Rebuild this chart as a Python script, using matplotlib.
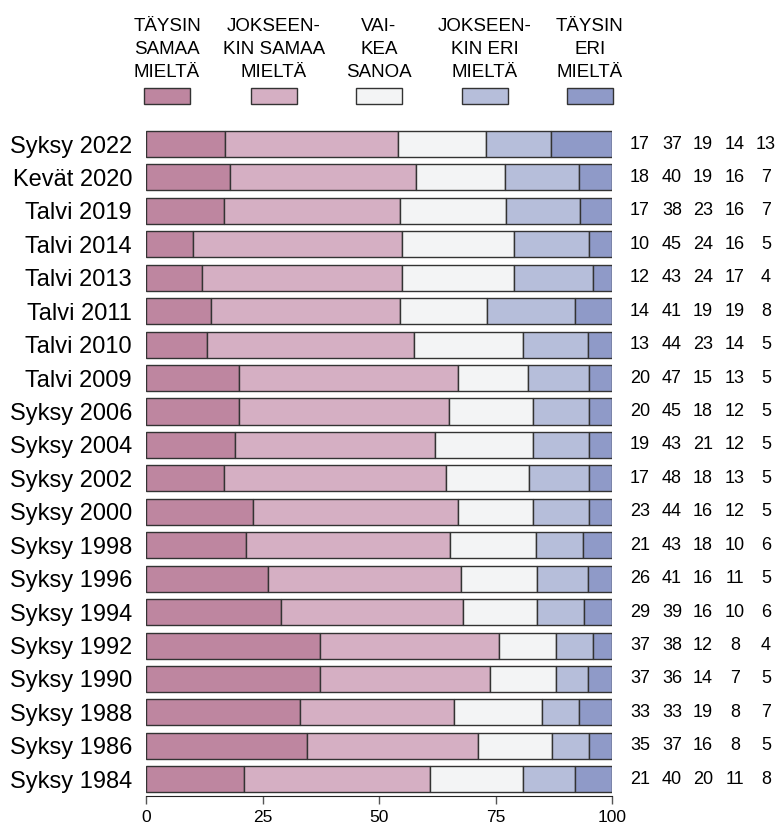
import matplotlib
matplotlib.use("Agg")
import matplotlib.pyplot as plt
import numpy as np

plt.rcParams['font.family'] = ['Liberation Sans', 'DejaVu Sans']

categories = ["Syksy 2022", "Kevät 2020", "Talvi 2019", "Talvi 2014", "Talvi 2013",
              "Talvi 2011", "Talvi 2010", "Talvi 2009", "Syksy 2006", "Syksy 2004",
              "Syksy 2002", "Syksy 2000", "Syksy 1998", "Syksy 1996", "Syksy 1994",
              "Syksy 1992", "Syksy 1990", "Syksy 1988", "Syksy 1986", "Syksy 1984"]
taysin_samaa = [17, 18, 17, 10, 12, 14, 13, 20, 20, 19, 17, 23, 21, 26, 29, 37, 37, 33, 35, 21]
jokseenkin_samaa = [37, 40, 38, 45, 43, 41, 44, 47, 45, 43, 48, 44, 43, 41, 39, 38, 36, 33, 37, 40]
vaikea_sanoa = [19, 19, 23, 24, 24, 19, 23, 15, 18, 21, 18, 16, 18, 16, 16, 12, 14, 19, 16, 20]
jokseenkin_eri = [14, 16, 16, 16, 17, 19, 14, 13, 12, 12, 13, 12, 10, 11, 10, 8, 7, 8, 8, 11]
taysin_eri = [13, 7, 7, 5, 4, 8, 5, 5, 5, 5, 5, 5, 6, 5, 6, 4, 5, 7, 5, 8]
legend_labels = ["TÄYSIN\nSAMAA\nMIELTÄ", "JOKSEEN-\nKIN SAMAA\nMIELTÄ", "VAI-\nKEA\nSANOA",
                 "JOKSEEN-\nKIN ERI\nMIELTÄ", "TÄYSIN\nERI\nMIELTÄ"]
colors = ["#BE86A0", "#D5AFC3", "#F3F4F5", "#B6BEDA", "#8F9AC8"]
xticks = [0, 25, 50, 75, 100]

series = np.array([taysin_samaa, jokseenkin_samaa, vaikea_sanoa, jokseenkin_eri, taysin_eri], dtype=float)
totals = series.sum(axis=0)
norm = series / totals * 100

fig = plt.figure(figsize=(7.77, 8.27), dpi=100)
ax = fig.add_axes([146/777, 1-796/827, (612-146)/777, (796-127.3)/827])

y = np.arange(len(categories))
left = np.zeros(len(categories))
for i in range(5):
    ax.barh(y, norm[i], left=left, height=0.78, color=colors[i], edgecolor="#333333", linewidth=1.0)
    left += norm[i]

ax.set_ylim(len(categories) - 0.5, -0.5)
ax.set_xlim(0, 100)
ax.set_yticks(y)
ax.set_yticklabels(categories, fontsize=17)
ax.tick_params(axis='y', length=0, pad=10)
ax.set_xticks(xticks)
ax.set_xticklabels([str(t) for t in xticks], fontsize=12.5)
ax.tick_params(axis='x', length=6, width=1, color="#555555", pad=4)
for s in ["top", "right", "left"]:
    ax.spines[s].set_visible(False)
ax.spines["bottom"].set_color("#222222")

# Right-side numbers
col_x = [640, 672, 703, 735, 766]
for r in range(len(categories)):
    for c in range(5):
        ax.text((col_x[c] - 146) / 466 * 100, r, str(int(series[c, r])), ha='center', va='center',
                fontsize=13, clip_on=False)

# Legend
leg_x = [167, 274, 379, 485, 590]
for i in range(5):
    xf = leg_x[i] / 777
    fig.patches.append(plt.Rectangle((xf - 23/777, 1 - 104/827), 46/777, 16/827,
                                     transform=fig.transFigure, facecolor=colors[i],
                                     edgecolor="#333333", linewidth=1.0))
    fig.text(xf, 1 - 77/827, legend_labels[i], ha='center', va='baseline', fontsize=13.5,
             linespacing=1.45)

fig.savefig("out.png", dpi=100)
